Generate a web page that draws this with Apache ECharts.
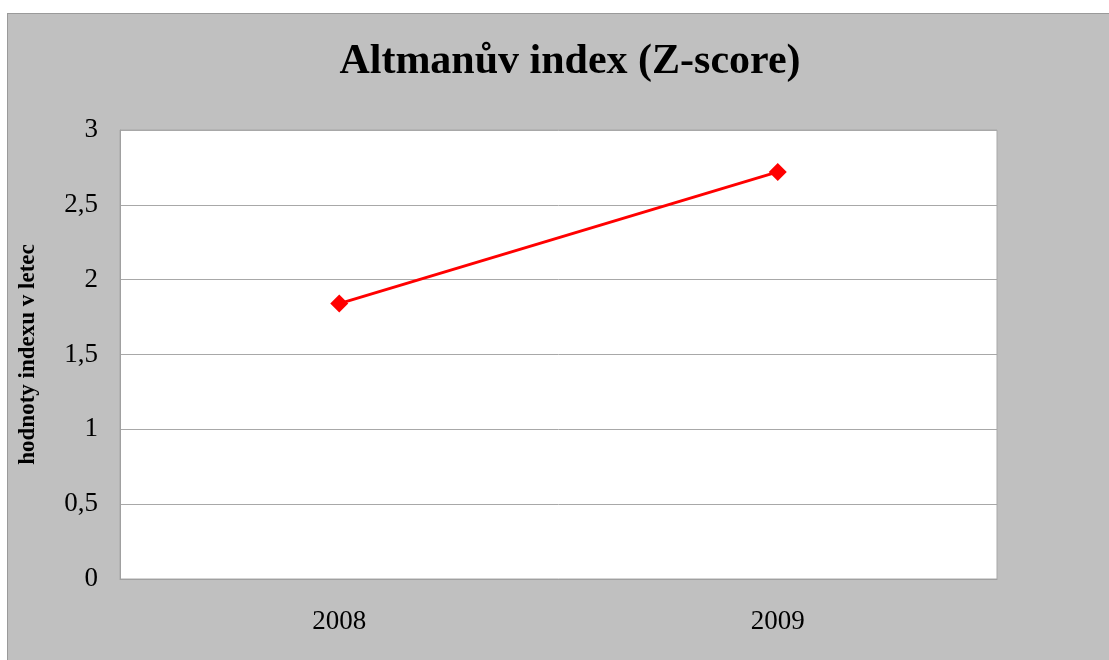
<!DOCTYPE html>
<html>
<head>
<meta charset="utf-8">
<script src="https://cdn.jsdelivr.net/npm/echarts@6/dist/echarts.min.js"></script>
<style>
  html, body { margin: 0; padding: 0; background: #fff; }
  .frame {
    position: absolute;
    left: 7px;
    top: 13px;
    width: 1101px;
    height: 646px;
    background: #c0c0c0;
    border-left: 1px solid #9a9a9a;
    border-top: 1px solid #9a9a9a;
  }
  .echarts-box { width: 1101px; height: 646px; }
</style>
</head>
<body>
<div class="frame">
  <div id="chart" class="echarts-box"></div>
</div>
<script>
// data
const years = ['2008', '2009']
const zScore = [1.84, 2.72]
const yTicks = [0, 0.5, 1, 1.5, 2, 2.5, 3]

const serif = '"Liberation Serif", "DejaVu Serif", serif'

let myChart = echarts.init(document.getElementById('chart'))
let option = {
  animation: false,
  title: {
    text: 'Altmanův index (Z-score)',
    left: 557,
    textAlign: 'center',
    top: 22,
    textStyle: {
      fontFamily: serif,
      fontWeight: 'bold',
      fontSize: 42,
      color: '#000'
    }
  },
  grid: {
    left: 112,
    right: 112,
    top: 116,
    bottom: 81,
    show: true,
    backgroundColor: '#fff',
    borderColor: '#a8a8a8',
    borderWidth: 1
  },
  xAxis: {
    type: 'category',
    data: years,
    boundaryGap: true,
    axisLine: { lineStyle: { color: '#a0a0a0', width: 1 } },
    axisTick: { show: false },
    axisLabel: {
      margin: 29,
      fontFamily: serif,
      fontSize: 27,
      color: '#000'
    }
  },
  yAxis: {
    type: 'value',
    min: yTicks[0],
    max: yTicks[yTicks.length - 1],
    interval: 0.5,
    name: 'hodnoty indexu v letec',
    nameLocation: 'middle',
    nameGap: 80,
    nameRotate: 90,
    nameTextStyle: {
      fontFamily: serif,
      fontWeight: 'bold',
      fontSize: 23,
      color: '#000'
    },
    axisLine: { show: true, lineStyle: { color: '#a0a0a0', width: 1 } },
    axisTick: { show: false },
    axisLabel: {
      margin: 22,
      fontFamily: serif,
      fontSize: 27,
      color: '#000',
      formatter: v => String(v).replace('.', ',')
    },
    splitLine: { lineStyle: { color: '#a8a8a8', width: 1 } }
  },
  series: [
    {
      name: 'Z-score',
      type: 'line',
      data: zScore,
      symbol: 'diamond',
      symbolSize: 18,
      itemStyle: { color: '#ff0000' },
      lineStyle: { color: '#ff0000', width: 3 }
    }
  ]
}
myChart.setOption(option)
</script>
</body>
</html>
